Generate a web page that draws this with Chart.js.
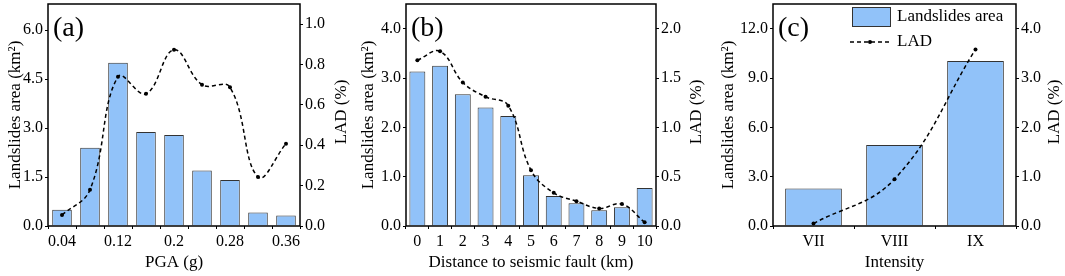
<!DOCTYPE html>
<html>
<head>
<meta charset="utf-8">
<script src="https://cdn.jsdelivr.net/npm/chart.js@4.4.1/dist/chart.umd.min.js"></script>
<style>
    body { margin: 0; background: #fff; width: 1065px; height: 276px; position: relative; overflow: hidden; }
    canvas { position: absolute; top: 0; }
</style>
</head>
<body>
<canvas id="chartA" width="354" height="276" style="left:0px"></canvas>
<canvas id="chartB" width="356" height="276" style="left:354px"></canvas>
<canvas id="chartC" width="355" height="276" style="left:710px"></canvas>
<script>
// panel (a) - PGA
const pgaLabels = ['0.04', '0.08', '0.12', '0.16', '0.2', '0.24', '0.28', '0.32', '0.36'];
const pgaArea = [0.50, 2.40, 5.00, 2.88, 2.79, 1.70, 1.41, 0.41, 0.32];
const pgaLad = [0.054, 0.18, 0.74, 0.655, 0.873, 0.70, 0.687, 0.243, 0.408];

// panel (b) - distance to fault
const distLabels = ['0', '1', '2', '3', '4', '5', '6', '7', '8', '9', '10'];
const distArea = [3.13, 3.25, 2.67, 2.40, 2.23, 1.03, 0.61, 0.46, 0.32, 0.38, 0.77];
const distLad = [1.68, 1.77, 1.455, 1.31, 1.22, 0.565, 0.336, 0.252, 0.178, 0.222, 0.037];

// panel (c) - intensity
const intLabels = ['VII', 'VIII', 'IX'];
const intArea = [2.28, 4.92, 10.04];
const intLad = [0.05, 0.95, 3.58];

const SERIF = "'Liberation Serif', 'Times New Roman', serif";
const BAR_FILL = 'rgb(145,194,249)';
const BAR_EDGE = '#333';

// box round the plot, panel tag and right-hand title (reads bottom to top like the left one)
const framePlugin = {
    id: 'frame',
    afterDraw(chart) {
        const { ctx, chartArea: a } = chart;
        const opts = chart.options.plugins.frame;
        ctx.save();
        ctx.strokeStyle = '#000';
        ctx.lineWidth = 1.5;
        ctx.strokeRect(a.left, a.top, a.right - a.left, a.bottom - a.top);
        ctx.fillStyle = '#000';
        ctx.font = '28px ' + SERIF;
        ctx.textBaseline = 'middle';
        ctx.textAlign = 'left';
        ctx.fillText(opts.tag, a.left + 5, 29);

        ctx.font = '17px ' + SERIF;
        ctx.textAlign = 'center';
        ctx.translate(chart.width - opts.rightOff, (a.top + a.bottom) / 2 - 3);
        ctx.rotate(-Math.PI / 2);
        ctx.fillText('LAD (%)', 0, 0);
        ctx.restore();
    }
};

const legendPlugin = {
    id: 'boxLegend',
    afterDraw(chart) {
        if (!chart.options.plugins.boxLegend.show) return;
        const { ctx, chartArea: a } = chart;
        const x0 = a.left + 79;
        ctx.save();
        ctx.fillStyle = BAR_FILL;
        ctx.strokeStyle = BAR_EDGE;
        ctx.lineWidth = 1;
        ctx.fillRect(x0, 7, 38, 19);
        ctx.strokeRect(x0 + 0.5, 7.5, 38, 19);
        ctx.strokeStyle = '#000';
        ctx.lineWidth = 1.5;
        ctx.setLineDash([4, 3]);
        ctx.beginPath();
        ctx.moveTo(x0 - 2, 42);
        ctx.lineTo(x0 + 38, 42);
        ctx.stroke();
        ctx.setLineDash([]);
        ctx.fillStyle = '#000';
        ctx.beginPath();
        ctx.arc(x0 + 18, 42, 2, 0, Math.PI * 2);
        ctx.fill();
        ctx.font = '17px ' + SERIF;
        ctx.textBaseline = 'middle';
        ctx.fillText('Landslides area', x0 + 45, 17);
        ctx.fillText('LAD', x0 + 45, 42);
        ctx.restore();
    }
};

function makePanel(id, cfg) {
    const tickFont = { family: SERIF, size: 16 };
    const titleFont = { family: SERIF, size: 17 };
    const grid = { drawOnChartArea: false, color: '#000', tickLength: 3, lineWidth: 1 };
    return new Chart(document.getElementById(id), {
        type: 'bar',
        data: {
            labels: cfg.labels,
            datasets: [
                {
                    type: 'line',
                    label: 'LAD',
                    data: cfg.lad,
                    yAxisID: 'y1',
                    borderColor: '#000',
                    backgroundColor: '#000',
                    borderWidth: 1.5,
                    borderDash: [4, 3],
                    pointRadius: 2,
                    pointBorderWidth: 0,
                    tension: 0.4,
                    fill: false,
                    order: 0
                },
                {
                    label: 'Landslides area',
                    data: cfg.area,
                    yAxisID: 'y',
                    backgroundColor: BAR_FILL,
                    borderColor: BAR_EDGE,
                    borderWidth: 1,
                    categoryPercentage: 1,
                    barPercentage: 0.7,
                    order: 1
                }
            ]
        },
        options: {
            responsive: false,
            devicePixelRatio: 1,
            animation: false,
            layout: { padding: { top: 2, bottom: 0, left: 0, right: 0 } },
            plugins: {
                legend: { display: false },
                tooltip: { enabled: false },
                frame: { tag: cfg.tag, rightOff: cfg.rightOff },
                boxLegend: { show: !!cfg.legend }
            },
            scales: {
                x: {
                    grid: grid,
                    border: { display: false },
                    afterFit: s => { s.height = 50; s.paddingLeft = 0; s.paddingRight = 0; },
                    ticks: {
                        color: '#000', font: tickFont, autoSkip: false, maxRotation: 0, padding: 3,
                        callback: (v, i) => (cfg.every && i % cfg.every) ? '' : cfg.labels[i]
                    },
                    title: { display: true, text: cfg.xTitle, color: '#000', font: titleFont, padding: { top: 0, bottom: 3 } }
                },
                y: {
                    position: 'left',
                    min: 0, max: cfg.yMax,
                    grid: grid,
                    border: { display: false },
                    afterFit: s => { s.width = cfg.leftW; s.paddingTop = 0; s.paddingBottom = 0; },
                    ticks: { stepSize: cfg.yStep, includeBounds: false, color: '#000', font: tickFont, padding: 2, callback: v => v.toFixed(1) },
                    title: { display: true, text: 'Landslides area (km²)', color: '#000', font: titleFont, padding: { top: cfg.leftPad, bottom: 0 } }
                },
                y1: {
                    position: 'right',
                    min: 0, max: cfg.y1Max,
                    grid: grid,
                    border: { display: false },
                    afterFit: s => { s.width = cfg.rightW; s.paddingTop = 0; s.paddingBottom = 0; },
                    ticks: { stepSize: cfg.y1Step, includeBounds: false, color: '#000', font: tickFont, padding: 2, callback: v => v.toFixed(1) }
                }
            }
        },
        plugins: [framePlugin, legendPlugin]
    });
}

makePanel('chartA', {
    tag: '(a)', labels: pgaLabels, area: pgaArea, lad: pgaLad, every: 2,
    xTitle: 'PGA (g)', yMax: 6.8, yStep: 1.5, y1Max: 1.1, y1Step: 0.2,
    leftW: 48, rightW: 54, leftPad: 5, rightOff: 12
});
makePanel('chartB', {
    tag: '(b)', labels: distLabels, area: distArea, lad: distLad,
    xTitle: 'Distance to seismic fault (km)', yMax: 4.5, yStep: 1, y1Max: 2.25, y1Step: 0.5,
    leftW: 52, rightW: 54, leftPad: 4, rightOff: 13
});
makePanel('chartC', {
    tag: '(c)', labels: intLabels, area: intArea, lad: intLad, legend: true,
    xTitle: 'Intensity', yMax: 13.5, yStep: 3, y1Max: 4.5, y1Step: 1,
    leftW: 63, rightW: 49, leftPad: 8, rightOff: 10
});
</script>
</body>
</html>
